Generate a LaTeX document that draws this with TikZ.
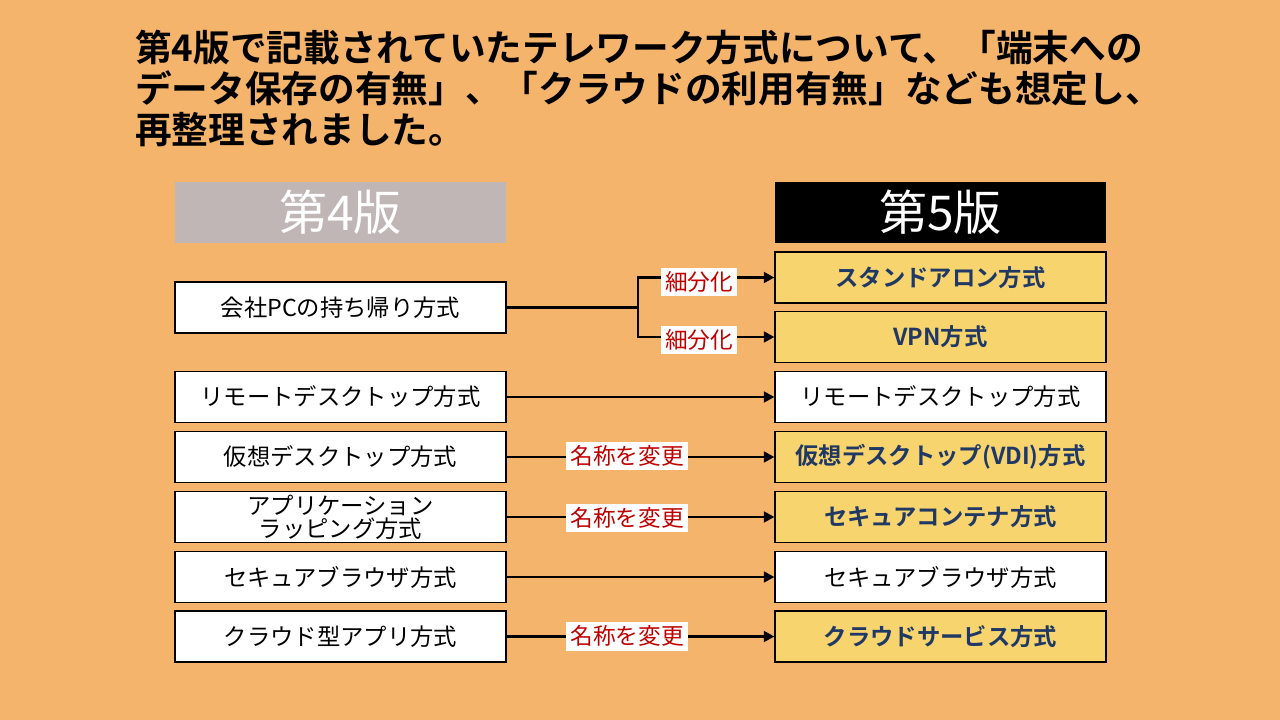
\documentclass[tikz,border=0pt]{standalone}
\usepackage{fontspec}
\setmainfont{Noto Sans CJK JP}
\newfontfamily\jpb{Noto Sans CJK JP Bold}
\usetikzlibrary{arrows.meta}
\definecolor{bg}{HTML}{F5B46C}
\definecolor{yel}{HTML}{F7D46E}
\definecolor{navy}{HTML}{1F3864}
\definecolor{lab}{HTML}{C00000}
\definecolor{gry}{HTML}{BFB6B5}
\tikzset{
 box/.style={draw=black,line width=0.8pt,fill=white,minimum width=331*0.75pt,minimum height=51*0.75pt,inner sep=0pt,font=\fontsize{17.5}{19}\selectfont,align=center},
 ybox/.style={box,fill=yel,text=navy,font=\jpb\fontsize{17.5}{19}\selectfont},
 hdr/.style={minimum width=331*0.75pt,minimum height=61*0.75pt,inner sep=0pt,text=white,font=\fontsize{36}{38}\selectfont},
 lbl/.style={fill=white,text=lab,inner sep=3pt,minimum height=26*0.75pt,font=\fontsize{17}{19}\selectfont},
 arr/.style={line width=2.2pt,-{Triangle[length=8pt,width=8pt]}},
 ln/.style={line width=2.2pt}
}
\begin{document}
\begin{tikzpicture}[x=0.75pt,y=-0.75pt]
\fill[bg] (0,0) rectangle (1280,720);
\node[anchor=north west,align=left,font=\jpb\fontsize{27.5}{30.5}\selectfont,inner sep=0pt] (title) at (135,30)
{第4版で記載されていたテレワーク方式について、「端末への\\データ保存の有無」、「クラウドの利用有無」なども想定し、\\再整理されました。};
\node[hdr,fill=gry] (h4) at (340.5,212.5) {第4版};
\node[hdr,fill=black] (h5) at (940.5,212.5) {第5版};
\node[box] (l1) at (340.5,307.5) {会社PCの持ち帰り方式};
\node[box] (l2) at (340.5,397) {リモートデスクトップ方式};
\node[box] (l3) at (340.5,457) {仮想デスクトップ方式};
\node[box,font=\fontsize{17.5}{17.5}\selectfont] (l4) at (340.5,517) {アプリケーション\\ラッピング方式};
\node[box] (l5) at (340.5,577) {セキュアブラウザ方式};
\node[box] (l6) at (340.5,636.5) {クラウド型アプリ方式};
\node[ybox] (r1) at (940.5,277.5) {スタンドアロン方式};
\node[ybox] (r2) at (940.5,337) {VPN方式};
\node[box] (r3) at (940.5,397) {リモートデスクトップ方式};
\node[ybox] (r4) at (940.5,457) {仮想デスクトップ(VDI)方式};
\node[ybox] (r5) at (940.5,517) {セキュアコンテナ方式};
\node[box] (r6) at (940.5,577) {セキュアブラウザ方式};
\node[ybox] (r7) at (940.5,636.5) {クラウドサービス方式};
\coordinate (sp) at (638,307.5);
\draw[ln] (l1.east) -- (sp);
\draw[arr] (sp) |- (r1.west);
\draw[arr] (sp) |- (r2.west);
\node[lbl] (s1) at (699,282) {細分化};
\node[lbl] (s2) at (699,340) {細分化};
\draw[arr] (l2.east) -- (r3.west);
\draw[arr] (l3.east) -- (r4.west);
\draw[arr] (l4.east) -- (r5.west);
\draw[arr] (l5.east) -- (r6.west);
\draw[arr] (l6.east) -- (r7.west);
\node[lbl] (n1) at (627,456) {名称を変更};
\node[lbl] (n2) at (627,518) {名称を変更};
\node[lbl] (n3) at (627,636) {名称を変更};
\end{tikzpicture}
\end{document}
